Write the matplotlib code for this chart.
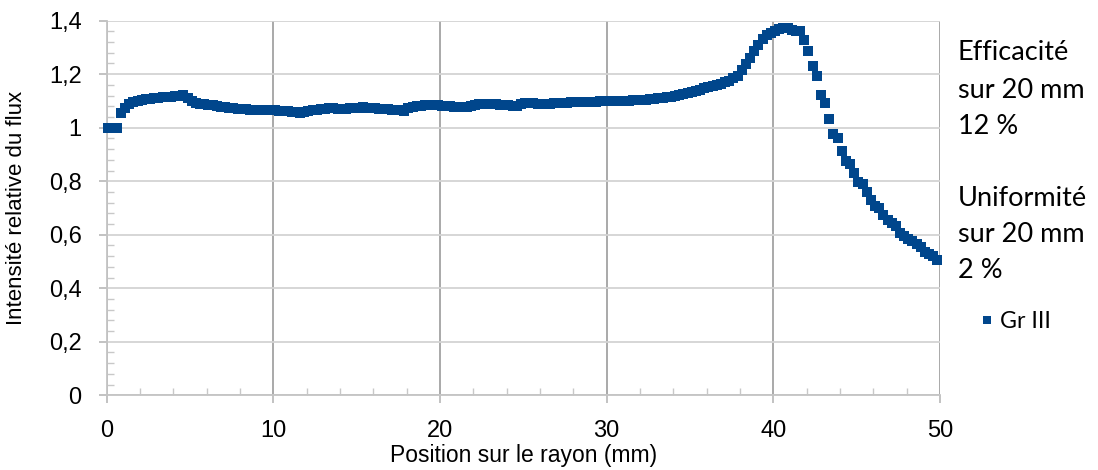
import numpy as np
import matplotlib
matplotlib.use("Agg")
import matplotlib.pyplot as plt
from matplotlib.ticker import MultipleLocator, FixedLocator

# ---------- Measured profile (Gr III), one row per mm, 0.25 mm step ----------
x_start = 0.1      # first sample position [mm]
x_step = 0.25      # sampling step [mm]
intensity_rows = [
    [1.000, 1.000, 1.000, 1.056],  # 0 mm
    [1.075, 1.088, 1.096, 1.100],
    [1.103, 1.106, 1.108, 1.110],
    [1.112, 1.113, 1.115, 1.116],
    [1.118, 1.120, 1.121, 1.110],
    [1.100, 1.093, 1.089, 1.087],  # 5 mm
    [1.085, 1.083, 1.081, 1.079],
    [1.077, 1.075, 1.073, 1.071],
    [1.070, 1.069, 1.068, 1.067],
    [1.067, 1.066, 1.066, 1.065],
    [1.065, 1.064, 1.063, 1.061],  # 10 mm
    [1.059, 1.057, 1.055, 1.058],
    [1.063, 1.066, 1.068, 1.070],
    [1.071, 1.072, 1.072, 1.071],
    [1.071, 1.071, 1.073, 1.074],
    [1.075, 1.076, 1.074, 1.072],  # 15 mm
    [1.072, 1.071, 1.070, 1.069],
    [1.068, 1.067, 1.065, 1.063],
    [1.074, 1.078, 1.080, 1.082],
    [1.084, 1.084, 1.083, 1.083],
    [1.082, 1.081, 1.080, 1.078],  # 20 mm
    [1.077, 1.077, 1.078, 1.081],
    [1.085, 1.088, 1.088, 1.087],
    [1.087, 1.087, 1.086, 1.085],
    [1.083, 1.081, 1.082, 1.087],
    [1.092, 1.092, 1.091, 1.090],  # 25 mm
    [1.090, 1.090, 1.090, 1.091],
    [1.092, 1.093, 1.094, 1.095],
    [1.095, 1.095, 1.095, 1.096],
    [1.096, 1.097, 1.098, 1.099],
    [1.099, 1.099, 1.100, 1.100],  # 30 mm
    [1.100, 1.101, 1.102, 1.103],
    [1.104, 1.105, 1.107, 1.109],
    [1.110, 1.112, 1.114, 1.116],
    [1.119, 1.122, 1.126, 1.130],
    [1.134, 1.138, 1.142, 1.147],  # 35 mm
    [1.151, 1.155, 1.160, 1.165],
    [1.170, 1.176, 1.184, 1.195],
    [1.215, 1.238, 1.262, 1.285],
    [1.308, 1.330, 1.345, 1.355],
    [1.362, 1.368, 1.372, 1.374],  # 40 mm
    [1.365, 1.362, 1.360, 1.329],
    [1.285, 1.229, 1.192, 1.124],
    [1.094, 1.034, 0.975, 0.962],
    [0.912, 0.875, 0.866, 0.829],
    [0.796, 0.791, 0.759, 0.731],  # 45 mm
    [0.709, 0.700, 0.675, 0.654],
    [0.644, 0.631, 0.606, 0.594],
    [0.584, 0.575, 0.565, 0.556],
    [0.537, 0.529, 0.519, 0.506],
]
intensity = np.array(intensity_rows).ravel()
position = x_start + x_step * np.arange(intensity.size)

series_label = "Gr III"
x_ticks = [0, 10, 20, 30, 40, 50]
y_ticks = [0, 0.2, 0.4, 0.6, 0.8, 1.0, 1.2, 1.4]
y_tick_labels = ["0", "0,2", "0,4", "0,6", "0,8", "1", "1,2", "1,4"]
note_efficiency = ["Efficacité", "sur 20 mm", "12 %"]
note_uniformity = ["Uniformité", "sur 20 mm", "2 %"]

BLUE = "#00468C"
plt.rcParams["font.family"] = ["Liberation Sans", "DejaVu Sans"]

fig = plt.figure(figsize=(10.98, 4.70), dpi=100)
ax = fig.add_axes([0.0972, 0.159, 0.7589, 0.797])

ax.plot(position, intensity, "s", color=BLUE, ms=7, mew=0,
        label=series_label, zorder=3, clip_on=False)

ax.set_xlim(0, 50)
ax.set_ylim(0, 1.4)
ax.xaxis.set_major_locator(FixedLocator(x_ticks))
ax.xaxis.set_minor_locator(MultipleLocator(2))
ax.set_yticks(y_ticks)
ax.set_yticklabels(y_tick_labels)
ax.yaxis.set_minor_locator(MultipleLocator(0.04))

ax.grid(axis="x", which="major", color="#a3a3a3", lw=1.3, zorder=1)
ax.grid(axis="y", which="major", color="#d3d3d3", lw=1.3, zorder=1)
for side in ("top", "right"):
    ax.spines[side].set_visible(False)
for side in ("left", "bottom"):
    ax.spines[side].set_color("#c4c4c4")
    ax.spines[side].set_linewidth(1.3)

ax.tick_params(which="major", direction="out", length=6, width=1.2,
               color="#b8b8b8", labelsize=17, pad=12)
ax.tick_params(which="minor", direction="in", length=5, width=1.0,
               color="#c8c8c8")

ax.set_xlabel("Position sur le rayon (mm)", fontsize=16.5, labelpad=1)
ax.set_ylabel("Intensité relative du flux", fontsize=16, labelpad=16)

# annotation block on the right
fx = 958 / 1098
for i, line in enumerate(note_efficiency):
    fig.text(fx, 1 - (53 + 37 * i) / 470, line, family="Lato", fontsize=19.5,
             va="center", ha="left")
for i, line in enumerate(note_uniformity):
    fig.text(fx, 1 - (199 + 36 * i) / 470, line, family="Lato", fontsize=19.5,
             va="center", ha="left")

leg = fig.legend(loc="center left", bbox_to_anchor=(980 / 1098, 1 - 322 / 470),
                 frameon=False, handlelength=0.6, handletextpad=0.26,
                 borderpad=0, borderaxespad=0, markerscale=0.8,
                 prop={"family": "Lato", "size": 16.7})

fig.savefig("out.png", dpi=100)
